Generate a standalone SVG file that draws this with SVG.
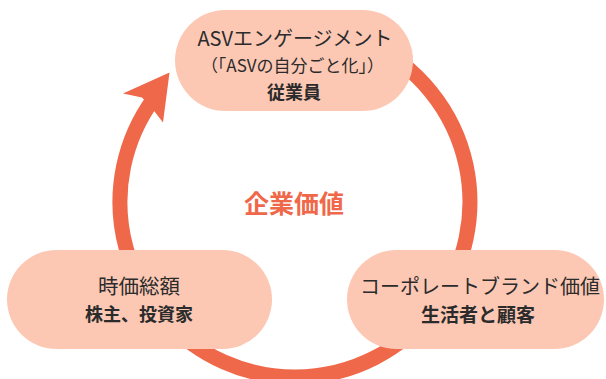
<svg xmlns="http://www.w3.org/2000/svg" width="606" height="379" viewBox="0 0 606 379">
  <style>
    .node { fill: #FCC8B4; }
    .t { font-family: "Noto Sans CJK JP", "Noto Sans", sans-serif; fill: #2b2b2b; text-anchor: middle; }
    .title { font-size: 20px; }
    .sub { font-size: 17px; }
    .bold { font-size: 18px; font-weight: bold; }
    .arc { fill: none; stroke: #EF684A; stroke-width: 15; }
    .head { fill: #EF684A; }
    .center { font-family: "Noto Sans CJK JP", "Noto Sans", sans-serif; fill: #EF684A; font-size: 25px; font-weight: bold; text-anchor: middle; }
  </style>
  <rect width="606" height="379" fill="#ffffff"/>
  <g id="connectors">
    <path class="arc" d="M 295 27 A 175 175 0 1 1 153.4 99.1"/>
    <polygon class="head" points="169.5,72.5 123,93.5 142,97.5 153,109.5 163,122.5"/>
  </g>
  <g id="node-employees">
    <rect class="node" x="175" y="10" width="238" height="101" rx="50.5"/>
    <text class="t title" x="295" y="46.3">ASVエンゲージメント</text>
    <text class="t sub" x="292.5" y="72">（「ASVの自分ごと化」）</text>
    <text class="t bold" x="294" y="98.7">従業員</text>
  </g>
  <g id="node-shareholders">
    <rect class="node" x="7" y="250" width="265" height="99" rx="49.5"/>
    <text class="t" style="font-size:20.5px" x="139" y="293.5">時価総額</text>
    <text class="t bold" x="139" y="321.3">株主、投資家</text>
  </g>
  <g id="node-customers">
    <rect class="node" x="347" y="250" width="257" height="99" rx="49.5"/>
    <text class="t" style="font-size:20px" x="480" y="293.5">コーポレートブランド価値</text>
    <text class="t bold" style="font-size:19px" x="478" y="321.8">生活者と顧客</text>
  </g>
  <g id="label-center">
    <text class="center" x="294" y="213">企業価値</text>
  </g>
</svg>
